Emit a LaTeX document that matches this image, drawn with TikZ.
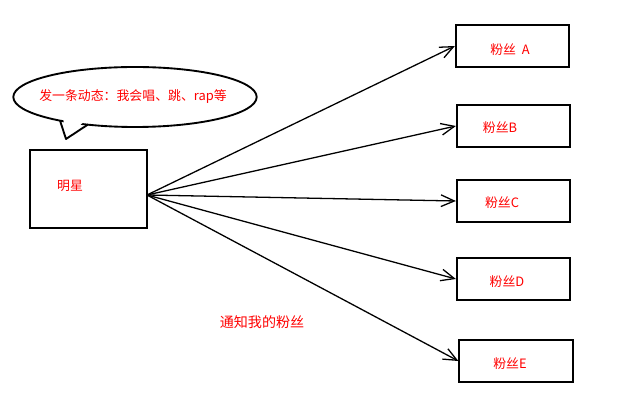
\documentclass[tikz,border=0pt]{standalone}
\usepackage{fontspec}
\setmainfont{Noto Sans CJK SC}
\usetikzlibrary{arrows.meta,shapes.geometric}
\tikzset{
  fanbox/.style={draw,line width=1.6pt,minimum width=3.4cm,minimum height=1.25cm,inner sep=0pt},
  redtxt/.style={text=red,font=\fontsize{11}{13}\selectfont},
  notify/.style={line width=1.1pt,-{Straight Barb[length=4mm,width=3.5mm]}}
}
\begin{document}
\begin{tikzpicture}[x=0.03cm,y=-0.03cm]
\useasboundingbox (0,0) rectangle (640,405);
% star
\node[fanbox,minimum width=3.5cm,minimum height=2.35cm] (star) at (88.5,189) {};
\node[redtxt] at (70,186) {明星};
% fans
\node[fanbox] (fanA) at (512.5,46) {};
\node[fanbox] (fanB) at (513.5,126) {};
\node[fanbox] (fanC) at (513.5,201) {};
\node[fanbox] (fanD) at (513.5,279) {};
\node[fanbox] (fanE) at (516,361) {};
\node[redtxt] at (510,50) {粉丝\ \ A};
\node[redtxt] at (500,128) {粉丝B};
\node[redtxt] at (502,203) {粉丝C};
\node[redtxt] at (507,282) {粉丝D};
\node[redtxt] at (510,364) {粉丝E};
% bubble
\node[draw,ellipse,line width=1.6pt,minimum width=7.3cm,minimum height=1.8cm] (bubble) at (135,97) {};
\fill[white] (63,117) -- (66,137) -- (85,121) -- cycle;
\draw[line width=1.6pt,line join=round] (60,120.5) -- (66,139) -- (88,124.5);
\node[redtxt] at (133,97) {发一条动态：我会唱、跳、rap等};
% arrows
\coordinate (src) at (147,195);
\foreach \f in {fanA,fanB,fanC,fanD,fanE}
  \draw[notify] (src) -- (\f.west);
\node[redtxt,font=\fontsize{12}{14}\selectfont] at (262,322) {通知我的粉丝};
\end{tikzpicture}
\end{document}
